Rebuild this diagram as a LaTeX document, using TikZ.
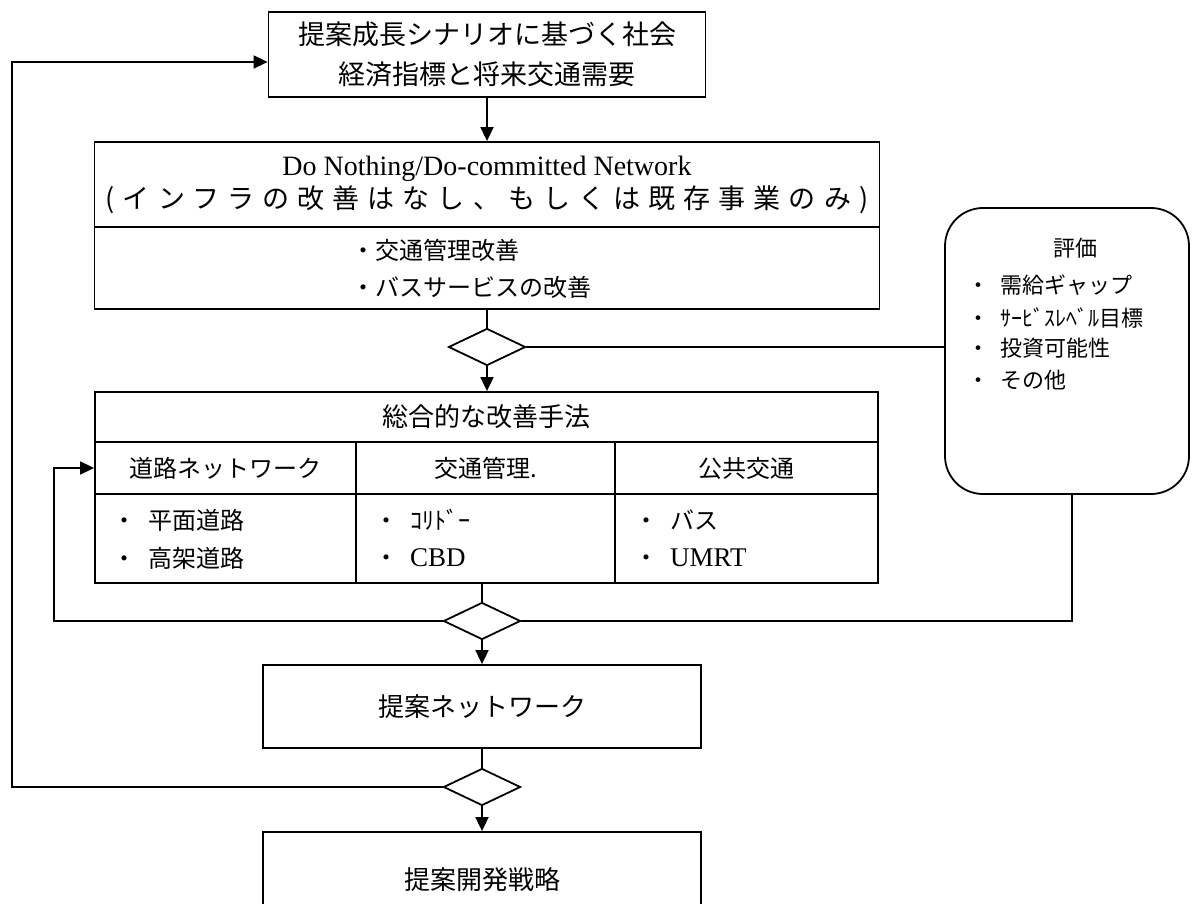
\documentclass[tikz,border=0pt]{standalone}
\usepackage{fontspec}
\setmainfont{Liberation Serif}
\newfontfamily\jp{Noto Sans CJK JP}
\newfontfamily\jpw[LetterSpace=30]{Noto Sans CJK JP}
\usetikzlibrary{shapes.geometric,arrows.meta,calc}
\newcommand\setfs[1]{\fontsize{#1}{#1}\selectfont}
\begin{document}
\begin{tikzpicture}[x=1pt,y=-1pt,
  box/.style={draw, line width=1.8pt, inner sep=0pt, align=center},
  dia/.style={draw, diamond, line width=1.8pt, inner sep=0pt, minimum width=77pt, minimum height=37pt},
  ln/.style={line width=1.8pt},
  arr/.style={line width=1.8pt, -{Triangle[width=13pt,length=14pt]}},
  txt/.style={inner sep=0pt, anchor=west},
  jpA/.style={font={\jp\fontsize{27}{40}\selectfont}},
  jpB/.style={font={\jp\setfs{26}}},
  jpC/.style={font={\jp\setfs{24}}},
  jpD/.style={font={\jp\setfs{22}}}
]
\fill[white] (0,0) rectangle (1192,904);
\useasboundingbox (0,0) rectangle (1192,904);

% top box
\node[box, jpA, minimum width=437pt, minimum height=85pt] (top) at (487,54.5)
  {提案成長シナリオに基づく社会\\経済指標と将来交通需要};

% do nothing box
\node[box, minimum width=785pt, minimum height=85pt, font={\fontsize{28}{33}\selectfont}] (dntop) at (487,184.5)
  {Do Nothing/Do-committed Network\\{\jpw\fontsize{27}{33}\selectfont (インフラの改善はなし、もしくは既存事業のみ)}};
\node[box, minimum width=785pt, minimum height=82pt] (dnbot) at (487,268) {};
\node[txt, jpC] (dn1) at (375,250) {\llap{・}交通管理改善};
\node[txt, jpC] (dn2) at (375,287) {\llap{・}バスサービスの改善};

% diamonds
\node[dia] (d1) at (487,347) {};
\node[dia] (d2) at (482,621) {};
\node[dia] (d3) at (482,787) {};

% table
\node[box, jpB, minimum width=783pt, minimum height=50pt] (ttl) at (486.5,417) {総合的な改善手法};
\node[box, jpC, minimum width=261pt, minimum height=52pt] (h1) at (225.5,468) {道路ネットワーク};
\node[box, jpC, minimum width=259pt, minimum height=52pt] (h2) at (485.5,468) {交通管理.};
\node[box, jpC, minimum width=263pt, minimum height=52pt] (h3) at (746.5,468) {公共交通};
\node[box, minimum width=261pt, minimum height=89pt] (c1) at (225.5,538.5) {};
\node[box, minimum width=259pt, minimum height=89pt] (c2) at (485.5,538.5) {};
\node[box, minimum width=263pt, minimum height=89pt] (c3) at (746.5,538.5) {};
\node[txt, jpC] (c1a) at (148,520) {\llap{・\hspace{12pt}}平面道路};
\node[txt, jpC] (c1b) at (148,558) {\llap{・\hspace{12pt}}高架道路};
\node[txt, jpC] (c2a) at (410,520) {\llap{・\hspace{12pt}}ｺﾘﾄﾞｰ};
\node[txt, jpC] (c2b) at (410,558) {\llap{・\hspace{12pt}}{\rmfamily\setfs{27}CBD}};
\node[txt, jpC] (c3a) at (670,520) {\llap{・\hspace{12pt}}バス};
\node[txt, jpC] (c3b) at (670,558) {\llap{・\hspace{12pt}}{\rmfamily\setfs{27}UMRT}};

% evaluation box
\node[box, rounded corners=38pt, minimum width=244pt, minimum height=286pt] (ev) at (1067,351) {};
\node[inner sep=0pt, jpD] (evt) at (1075,248) {評価};
\node[txt, jpD] (e1) at (1000,285) {\llap{・\hspace{11pt}}需給ギャップ};
\node[txt, jpD] (e2) at (1000,318) {\llap{・\hspace{11pt}}ｻｰﾋﾞｽﾚﾍﾞﾙ目標};
\node[txt, jpD] (e3) at (1000,348) {\llap{・\hspace{11pt}}投資可能性};
\node[txt, jpD] (e4) at (1000,380) {\llap{・\hspace{11pt}}その他};

% lower boxes
\node[box, jpB, minimum width=438pt, minimum height=83pt] (pn) at (482,706.5) {提案ネットワーク};
\node[box, jpB, minimum width=438pt, minimum height=96pt] (bot) at (482,880) {提案開発戦略};

% connectors
\draw[arr] (top.south) -- (dntop.north);
\draw[ln] (dnbot.south) -- (d1.north);
\draw[arr] (d1.south) -- (d1.south |- ttl.north);
\draw[ln] (d1.east) -- (d1.east -| ev.west);
\draw[ln] (d2.north |- c2.south) -- (d2.north);
\coordinate (lpA) at (54,621);
\coordinate (lpB) at (54,468);
\draw[arr] (d2.west) -- (lpA) -- (lpB) -- (h1.west);
\coordinate (rpA) at (1072,621);
\draw[ln] (d2.east) -- (rpA) -- (rpA |- ev.south);
\draw[arr] (d2.south) -- (pn.north);
\draw[ln] (pn.south) -- (d3.north);
\coordinate (lpC) at (12,787);
\coordinate (lpD) at (12,62);
\draw[arr] (d3.west) -- (lpC) -- (lpD) -- (lpD -| top.west);
\draw[arr] (d3.south) -- (bot.north);
\end{tikzpicture}
\end{document}
